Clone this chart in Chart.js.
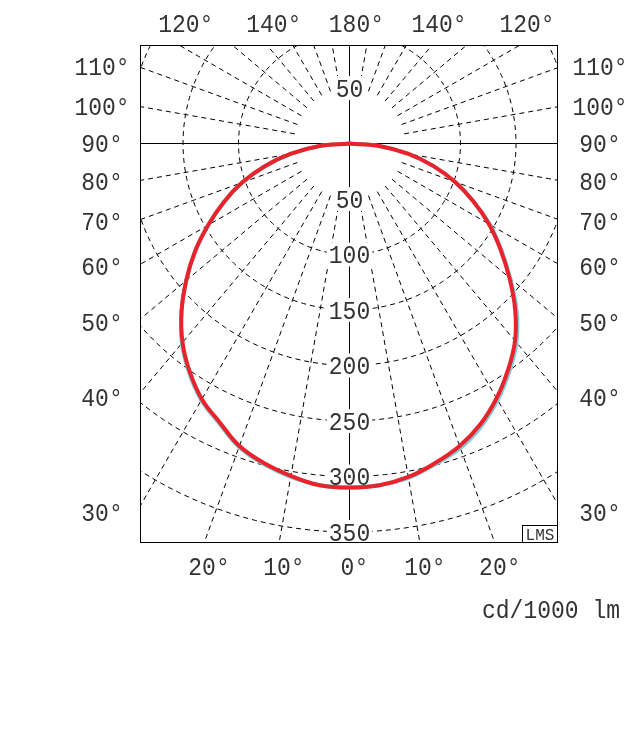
<!DOCTYPE html>
<html>
<head>
<meta charset="utf-8">
<script src="https://cdn.jsdelivr.net/npm/chart.js@4.4.1/dist/chart.umd.min.js"></script>
<style>
  html, body { margin: 0; padding: 0; background: #fff; }
  canvas { display: block; }
</style>
</head>
<body>
<canvas id="ldc" width="637" height="736"></canvas>
<script>
// gamma angles (deg from nadir) and luminous intensity in cd/1000 lm
const gammaDeg   = [0, 5, 10, 15, 20, 25, 30, 35, 40, 45, 50, 55, 60, 65, 70, 75, 80, 85, 90];
const c0Values   = [310, 309, 305, 298, 290, 279, 265, 249, 232, 211, 188, 166, 145, 123, 101, 78, 54, 28, 0];
const c180Values = [310, 309, 304, 298, 290, 277, 266, 251, 234, 214, 192, 170, 147, 125, 103, 79, 54, 28, 0];
const c90Values  = [310, 309, 306, 299, 292, 281, 267, 251, 234, 213, 189, 167, 146, 123, 101, 78, 54, 28, 0];
const c270Values = [310, 309, 305, 299, 291, 278, 267, 252, 235, 214, 192, 170, 147, 125, 103, 79, 54, 28, 0];

// grid
const circleValues = [100, 150, 200, 250, 300, 350];
const spokeAngles = [10, 20, 30, 40, 50, 60, 70, 80, 100, 110, 120, 130, 140, 150, 160, 170];
const spokeStart = 50;

// tick labels
const radialLabels = [50, 100, 150, 200, 250, 300, 350];
const upperRadialLabels = [50];
const sideLabels = [110, 100, 90, 80, 70, 60, 50, 40, 30];
const topLabels = [120, 140, 180, 140, 120];
const topSides = [-1, -1, 0, 1, 1];
const bottomLabels = [20, 10, 0, 10, 20];
const bottomSides = [-1, -1, 0, 1, 1];
const unitLabel = "cd/1000 lm";

const rad = d => d * Math.PI / 180;

function curve(leftVals, rightVals) {
    const pts = [];
    for (let i = gammaDeg.length - 1; i >= 0; i--) {
        const g = rad(gammaDeg[i]);
        pts.push({ x: -leftVals[i] * Math.sin(g), y: -leftVals[i] * Math.cos(g) });
    }
    for (let i = 1; i < gammaDeg.length; i++) {
        const g = rad(gammaDeg[i]);
        pts.push({ x: rightVals[i] * Math.sin(g), y: -rightVals[i] * Math.cos(g) });
    }
    return pts;
}

const lineDefaults = { showLine: true, pointRadius: 0, pointHoverRadius: 0, fill: false, tension: 0 };

const datasets = [
    Object.assign({}, lineDefaults, { data: curve(c180Values, c0Values), borderColor: "#e8232b", borderWidth: 4, tension: 0.4 }),
    Object.assign({}, lineDefaults, { data: curve(c270Values, c90Values), borderColor: "#86c9d8", borderWidth: 4, tension: 0.4 }),
    // solid axes
    Object.assign({ data: [{ x: 0, y: -1000 }, { x: 0, y: 1000 }], borderColor: "#000", borderWidth: 1 }, lineDefaults),
    Object.assign({ data: [{ x: -1000, y: 0 }, { x: 1000, y: 0 }], borderColor: "#000", borderWidth: 1 }, lineDefaults)
];

circleValues.forEach(r => {
    const pts = [];
    for (let a = 0; a <= 360; a += 2) pts.push({ x: r * Math.sin(rad(a)), y: r * Math.cos(rad(a)) });
    datasets.push(Object.assign({ data: pts, borderColor: "#000", borderWidth: 1, borderDash: [5, 4] }, lineDefaults));
});

spokeAngles.forEach(a => {
    [-1, 1].forEach(side => {
        const s = side * Math.sin(rad(a)), c = -Math.cos(rad(a));
        datasets.push(Object.assign({
            data: [{ x: spokeStart * s, y: spokeStart * c }, { x: 800 * s, y: 800 * c }],
            borderColor: "#000", borderWidth: 1, borderDash: [5, 4]
        }, lineDefaults));
    });
});

const K = 1.11; // px per cd/1000 lm
const TEXT = "#333";

const labelPlugin = {
    id: "labels",
    afterDatasetDraw(chart, args) {
        if (args.index !== 2) return;
        const ctx = chart.ctx;
        const xs = chart.scales.x, ys = chart.scales.y;
        const area = chart.chartArea;
        ctx.save();
        ctx.font = '23px "Liberation Mono"';
        ctx.fillStyle = TEXT;
        ctx.textBaseline = "alphabetic";
        ctx.textAlign = "left";
        const stretch = 1.12;
        const capH = ctx.measureText("0").actualBoundingBoxAscent * stretch;

        // draw text slightly taller, left edge at x, vertically centred on cy
        const put = (txt, x, cy) => {
            ctx.save();
            ctx.translate(x, cy + capH / 2);
            ctx.scale(1, stretch);
            ctx.fillText(txt, 0, 0);
            ctx.restore();
        };

        // radial value labels with white boxes
        const box = (txt, cx, cy) => {
            const w = ctx.measureText(txt).width;
            ctx.fillStyle = "#fff";
            ctx.fillRect(cx - w / 2 - 2, cy - capH / 2 - 3, w + 4, capH + 6);
            ctx.fillStyle = TEXT;
            put(txt, cx - w / 2, cy);
        };
        radialLabels.forEach(v => box(String(v), xs.getPixelForValue(0), ys.getPixelForValue(-v)));
        upperRadialLabels.forEach(v => box(String(v), xs.getPixelForValue(0), ys.getPixelForValue(v)));

        const deg = (num, cx, cy) => {
            const w = ctx.measureText(String(num)).width;
            put(num + "°", cx - w / 2, cy);
        };
        const degCentered = (num, cx, cy) => {
            const w = ctx.measureText(num + "°").width;
            put(num + "°", cx - w / 2, cy);
        };

        // side labels: where the spoke meets a line just outside the frame
        const X = 213 / K;
        sideLabels.forEach(a => {
            const yv = -Math.cos(rad(a)) * X / Math.sin(rad(a));
            const py = ys.getPixelForValue(yv);
            degCentered(a, area.left - 38, py);
            degCentered(a, area.right + 42, py);
        });

        // top labels
        const yTop = ys.max;
        topLabels.forEach((a, i) => {
            const xv = topSides[i] * yTop * Math.tan(rad(180 - a));
            deg(a, xs.getPixelForValue(xv), 23);
        });

        // bottom labels
        const yBot = -ys.min;
        bottomLabels.forEach((a, i) => {
            const xv = bottomSides[i] * yBot * Math.tan(rad(a));
            deg(a, xs.getPixelForValue(xv) - 2, 566);
        });

        put(unitLabel, 482, 609);

        // frame
        ctx.strokeStyle = "#000";
        ctx.lineWidth = 1;
        ctx.strokeRect(area.left + 0.5, area.top + 0.5, area.right - area.left - 1, area.bottom - area.top - 1);

        // LMS tag
        ctx.fillStyle = "#fff";
        ctx.fillRect(area.right - 36, area.bottom - 17, 36, 17);
        ctx.strokeRect(area.right - 35.5, area.bottom - 17.5, 35, 17);
        ctx.fillStyle = TEXT;
        ctx.font = '16px "Liberation Mono"';
        ctx.textAlign = "center";
        ctx.fillText("LMS", area.right - 18, area.bottom - 3);
        ctx.restore();
    }
};

new Chart(document.getElementById("ldc"), {
    type: "scatter",
    data: { datasets: datasets },
    options: {
        responsive: false,
        animation: false,
        devicePixelRatio: 1,
        layout: { padding: { left: 140, top: 45, right: 79, bottom: 193 } },
        plugins: { legend: { display: false }, tooltip: { enabled: false } },
        events: [],
        scales: {
            x: { type: "linear", display: false, min: -209.5 / K, max: 208.5 / K },
            y: { type: "linear", display: false, min: -399.5 / K, max: 98.5 / K }
        }
    },
    plugins: [labelPlugin]
});
</script>
</body>
</html>
